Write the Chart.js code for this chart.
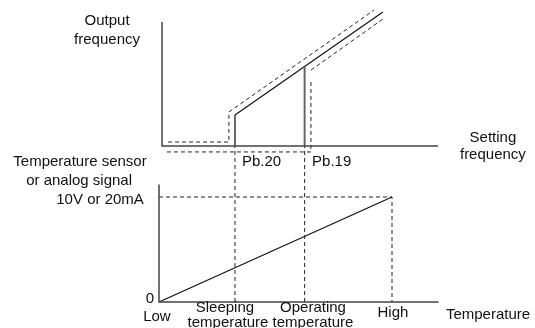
<!DOCTYPE html>
<html>
<head>
<meta charset="utf-8">
<script src="https://cdn.jsdelivr.net/npm/chart.js@4/dist/chart.umd.min.js"></script>
<style>
  html, body { margin: 0; padding: 0; background: #fff; }
  #sleep-chart { display: block; }
</style>
</head>
<body>
<canvas id="sleep-chart" width="535" height="328"></canvas>
<script>
// temperature axis: Low = 0, High = 100
const tempTicks = [0, 32.6, 62.5, 100];           // Low, sleeping (Pb.20), operating (Pb.19), high
const tempNames = ['Low', 'Sleeping', 'Operating', 'High'];
const tempEnd = 120;

// lower panel: sensor / analog signal in volts
const signalRange = [0, 10];                     // 0 .. 10V (20mA)
const signalTop = 11.2;
const signalToUpper = 14.86;                     // where the dashed guides meet the upper axis

// upper panel: output frequency in Hz
const freqTop = 50;
const freqAxisT = [1.3, 1.3, 119.7];
const freqAxisF = [freqTop, 0, 0];

// running: jump at sleeping temp, then ramp
const runT = [32.6, 96.1];
const runF = [12.5, 54.0];
const runEdgesT = [32.6, 62.5];
const runEdgesF = [12.5, 32.0];

// start-up path (dashed)
const startT = [3.9, 30.0, 30.0, 92.3];
const startF = [1.6, 1.6, 13.7, 54.8];

// sleep path (dashed)
const sleepT = [3.4, 65.2, 65.2];
const sleepF = [-2.4, -2.4, 26.6];
const sleepRampT = [65.2, 96.1];
const sleepRampF = [30.6, 51.2];

const pts = (xs, ys) => xs.map((x, i) => ({ x: x, y: ys[i] }));

const solid = { borderColor: '#111', borderWidth: 1.2, borderDash: [] };
const edge = { borderColor: '#666', borderWidth: 2, borderDash: [] };
const axisStyle = { borderColor: '#444', borderWidth: 1.5, borderDash: [] };
const dashed = { borderColor: '#222', borderWidth: 1, borderDash: [4, 3] };

function line(xs, ys, axis, style) {
  return Object.assign({
    data: pts(xs, ys),
    yAxisID: axis,
    showLine: true,
    pointRadius: 0,
    fill: false,
    tension: 0,
    clip: false
  }, style);
}

const datasets = [
  // upper panel
  line(freqAxisT, freqAxisF, 'yF', axisStyle),
  line(startT, startF, 'yF', dashed),
  line(sleepT, sleepF, 'yF', dashed),
  line(sleepRampT, sleepRampF, 'yF', dashed),
  line([runEdgesT[0], runEdgesT[0]], [0, runEdgesF[0]], 'yF', edge),
  line([runEdgesT[1], runEdgesT[1]], [0, runEdgesF[1]], 'yF', edge),
  line(runT, runF, 'yF', solid),
  // lower panel
  line([0, 0, tempEnd], [signalTop, 0, 0], 'yS', axisStyle),
  line([0, tempTicks[3], tempTicks[3]], [signalRange[1], signalRange[1], 0], 'yS', dashed),
  line([tempTicks[1], tempTicks[1]], [0, signalToUpper], 'yS', dashed),
  line([tempTicks[2], tempTicks[2]], [0, signalToUpper], 'yS', dashed),
  line([tempTicks[0], tempTicks[3]], signalRange, 'yS', solid)
];

// text placed in data units: [text, x, y, axis, align]
const labels = [
  ['Output', -22.3, 50.4, 'yF', 'center'],
  ['frequency', -22.3, 42.7, 'yF', 'center'],
  ['Setting', 143.3, 3.2, 'yF', 'center'],
  ['frequency', 143.3, -3.6, 'yF', 'center'],
  ['Pb.20', 35.6, -6.45, 'yF', 'left'],
  ['Pb.19', 65.7, -6.45, 'yF', 'left'],
  ['Temperature sensor', -33.9, 13.33, 'yS', 'center'],
  ['or analog signal', -34.3, 11.52, 'yS', 'center'],
  ['10V or 20mA', -25.3, 9.71, 'yS', 'center'],
  ['0', -3.9, 0.29, 'yS', 'center'],
  [tempNames[0], -0.9, -1.43, 'yS', 'center'],
  [tempNames[1], 28.3, -0.57, 'yS', 'center'],
  ['temperature', 29.6, -2.0, 'yS', 'center'],
  [tempNames[2], 66.1, -0.57, 'yS', 'center'],
  ['temperature', 66.1, -2.0, 'yS', 'center'],
  [tempNames[3], 100.4, -1.05, 'yS', 'center'],
  ['Temperature', 141.2, -1.24, 'yS', 'center']
];

const textPlugin = {
  id: 'diagramText',
  afterDraw(chart) {
    const ctx = chart.ctx;
    const xs = chart.scales.x;
    ctx.save();
    ctx.fillStyle = '#111';
    ctx.font = '15px "Liberation Sans", Arial, sans-serif';
    ctx.textBaseline = 'middle';
    for (const [txt, x, y, axis, align] of labels) {
      ctx.textAlign = align;
      ctx.fillText(txt, xs.getPixelForValue(x), chart.scales[axis].getPixelForValue(y));
    }
    ctx.restore();
  }
};

new Chart('sleep-chart', {
  type: 'scatter',
  data: { datasets: datasets },
  options: {
    responsive: false,
    animation: false,
    layout: { padding: 0 },
    plugins: { legend: { display: false }, tooltip: { enabled: false } },
    scales: {
      x: { type: 'linear', display: false, min: -68.24, max: 161.37 },
      yF: { type: 'linear', display: false, position: 'left', min: -73.39, max: 58.87 },
      yS: { type: 'linear', display: false, position: 'left', min: -2.476, max: 28.76 }
    }
  },
  plugins: [textPlugin]
});
</script>
</body>
</html>
